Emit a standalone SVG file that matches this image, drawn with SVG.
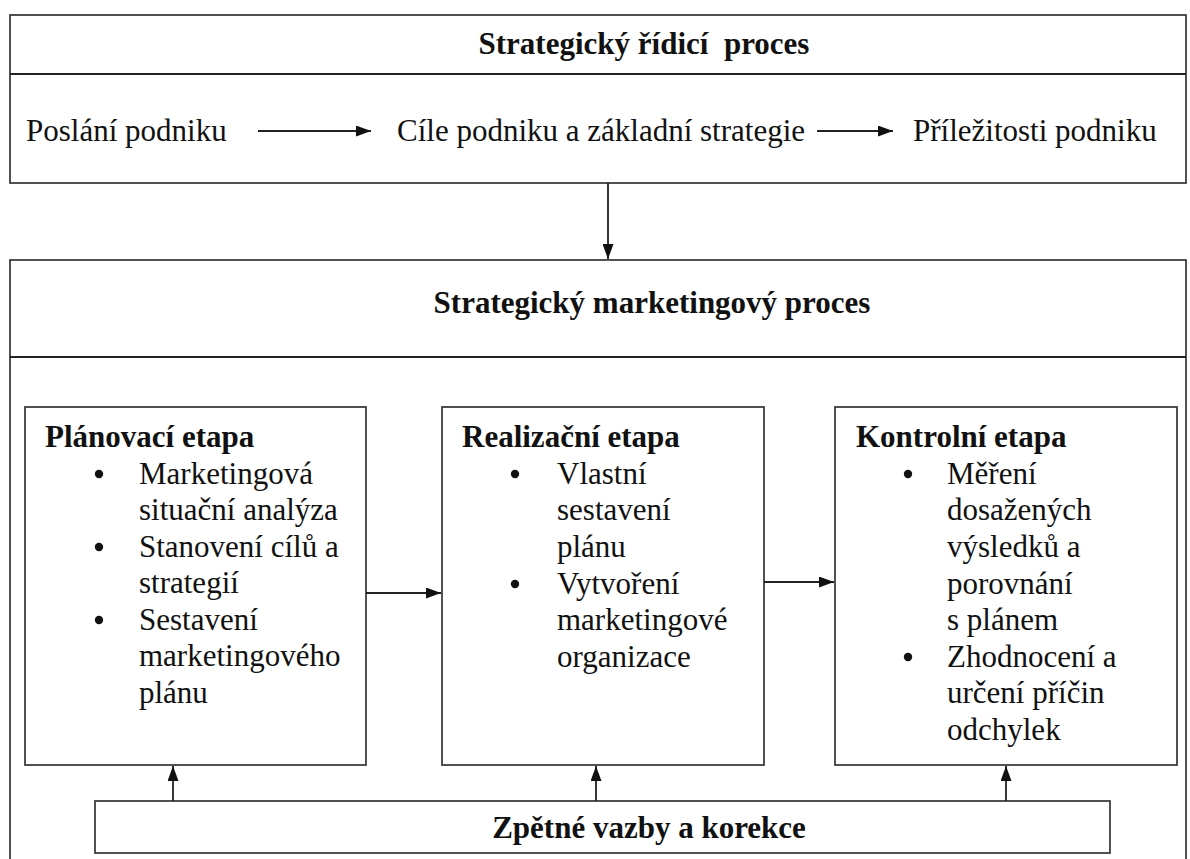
<svg xmlns="http://www.w3.org/2000/svg" width="1190" height="859" viewBox="0 0 1190 859">
<style>
.box{fill:#fff;stroke:#333;stroke-width:1.7}
.ln{fill:none;stroke:#222;stroke-width:1.8}
text{font-family:"Liberation Serif","Times New Roman",serif;font-size:31px;fill:#111}
.b{font-weight:bold}
.m{text-anchor:middle}
</style>
<defs>
<marker id="ah" viewBox="0 0 15 11" refX="15" refY="5.5" markerWidth="15" markerHeight="11" markerUnits="userSpaceOnUse" orient="auto">
<path d="M0,0 L15,5.5 L0,11 Z" fill="#111"/>
</marker>
</defs>
<rect width="1190" height="859" fill="#fff"/>
<g id="strategic-management">
<rect class="box" x="10" y="15" width="1176" height="168"/>
<line class="ln" x1="10" y1="74" x2="1186" y2="74"/>
<text class="b m" x="644" y="54" xml:space="preserve">Strategický řídicí  proces</text>
<text x="26" y="141">Poslání podniku</text>
<text x="397" y="141">Cíle podniku a základní strategie</text>
<text x="913" y="141">Příležitosti podniku</text>
</g>
<g id="strategic-marketing">
<rect class="box" x="10" y="260" width="1176" height="620"/>
<line class="ln" x1="10" y1="357" x2="1186" y2="357"/>
<text class="b m" x="652" y="313">Strategický marketingový proces</text>
</g>
<g id="planning">
<rect class="box" x="25" y="407" width="341" height="358"/>
<text class="b" x="45" y="447">Plánovací etapa</text>
<circle cx="99" cy="474" r="4.2" fill="#111"/>
<text x="139" y="484">Marketingová</text>
<text x="139" y="520">situační analýza</text>
<circle cx="99" cy="547" r="4.2" fill="#111"/>
<text x="139" y="557">Stanovení cílů a</text>
<text x="139" y="593">strategií</text>
<circle cx="99" cy="620" r="4.2" fill="#111"/>
<text x="139" y="630">Sestavení</text>
<text x="139" y="666">marketingového</text>
<text x="139" y="703">plánu</text>
</g>
<g id="realization">
<rect class="box" x="442" y="407" width="322" height="358"/>
<text class="b" x="462" y="447">Realizační etapa</text>
<circle cx="515" cy="474" r="4.2" fill="#111"/>
<text x="557" y="484">Vlastní</text>
<text x="557" y="520">sestavení</text>
<text x="557" y="557">plánu</text>
<circle cx="515" cy="584" r="4.2" fill="#111"/>
<text x="557" y="594">Vytvoření</text>
<text x="557" y="630">marketingové</text>
<text x="557" y="667">organizace</text>
</g>
<g id="control">
<rect class="box" x="835" y="407" width="342" height="358"/>
<text class="b" x="856" y="447">Kontrolní etapa</text>
<circle cx="908" cy="474" r="4.2" fill="#111"/>
<text x="947" y="484">Měření</text>
<text x="947" y="520">dosažených</text>
<text x="947" y="557">výsledků a</text>
<text x="947" y="594">porovnání</text>
<text x="947" y="630">s plánem</text>
<circle cx="908" cy="657" r="4.2" fill="#111"/>
<text x="947" y="667">Zhodnocení a</text>
<text x="947" y="703">určení příčin</text>
<text x="947" y="740">odchylek</text>
</g>
<g id="feedback">
<rect class="box" x="95" y="801" width="1015" height="52"/>
<text class="b m" x="649" y="838">Zpětné vazby a korekce</text>
</g>
<g id="connectors">
<line class="ln" x1="258" y1="131" x2="371" y2="131" marker-end="url(#ah)"/>
<line class="ln" x1="817" y1="131" x2="893" y2="131" marker-end="url(#ah)"/>
<line class="ln" x1="608" y1="183" x2="608" y2="259" marker-end="url(#ah)"/>
<line class="ln" x1="366" y1="593" x2="441" y2="593" marker-end="url(#ah)"/>
<line class="ln" x1="764" y1="582" x2="834" y2="582" marker-end="url(#ah)"/>
<line class="ln" x1="173" y1="801" x2="173" y2="766" marker-end="url(#ah)"/>
<line class="ln" x1="596" y1="801" x2="596" y2="766" marker-end="url(#ah)"/>
<line class="ln" x1="1006" y1="801" x2="1006" y2="766" marker-end="url(#ah)"/>
</g>
</svg>
